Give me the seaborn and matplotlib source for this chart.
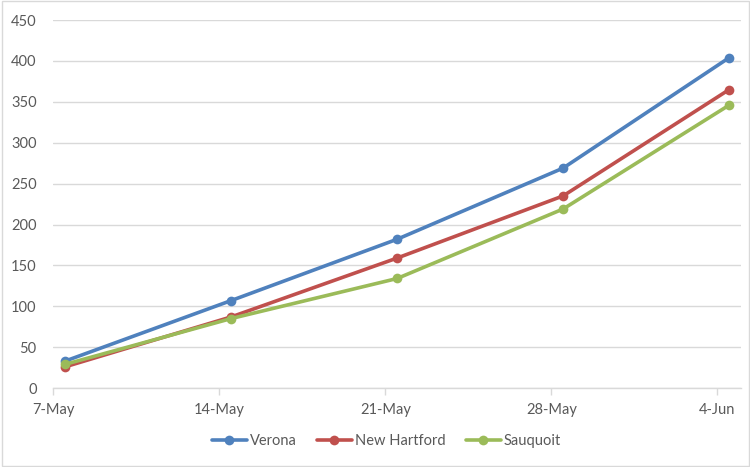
import matplotlib
matplotlib.use("Agg")
import matplotlib.pyplot as plt
import seaborn as sns
import pandas as pd

dates = ["7-May", "14-May", "21-May", "28-May", "4-Jun"]
day_offsets = [0, 7, 14, 21, 28]
verona = [33, 107, 182, 269, 404]
new_hartford = [26, 87, 159, 235, 365]
sauquoit = [29, 85, 134, 219, 346]
series_names = ["Verona", "New Hartford", "Sauquoit"]
colors = ["#4F81BD", "#C0504D", "#9BBB59"]

rows = []
for name, vals in zip(series_names, [verona, new_hartford, sauquoit]):
    for d, v in zip(day_offsets, vals):
        rows.append({"day": d + 0.5, "value": v, "site": name})
df = pd.DataFrame(rows)

sns.set_style("white")
plt.rcParams["font.family"] = ["Lato", "DejaVu Sans"]

fig = plt.figure(figsize=(7.5, 4.67), dpi=100)
ax = fig.add_axes([0.071, 0.169, 0.917, 0.788])

sns.lineplot(data=df, x="day", y="value", hue="site", hue_order=series_names,
             palette=colors, marker="o", markersize=7, markeredgewidth=0,
             linewidth=2.6, ax=ax)

ax.set_xlim(0, 29)
ax.set_ylim(0, 450)
ax.set_yticks(range(0, 451, 50))
ax.set_xticks(day_offsets)
ax.set_xticklabels(dates)
ax.yaxis.grid(True, color="#D9D9D9", linewidth=1)
ax.set_axisbelow(True)
for s in ["top", "right", "left"]:
    ax.spines[s].set_visible(False)
ax.spines["bottom"].set_color("#D9D9D9")
ax.spines["bottom"].set_linewidth(1)
ax.tick_params(axis="x", colors="#D9D9D9", length=5, width=1, pad=6,
               labelcolor="#595959", labelsize=10.5, bottom=True)
ax.tick_params(axis="y", length=0, labelcolor="#595959", labelsize=10.5, pad=12)
ax.set_xlabel("")
ax.set_ylabel("")

handles, labels = ax.get_legend_handles_labels()
ax.legend(handles, labels, loc="center", bbox_to_anchor=(0.515, 0.055),
          bbox_transform=fig.transFigure, ncol=3, frameon=False,
          fontsize=10.5, labelcolor="#595959", handlelength=2.4,
          columnspacing=1.4, handletextpad=0.2)

# outer chart border
fig.patches.append(plt.Rectangle((0.002, 0.002), 0.996, 0.996,
                                 transform=fig.transFigure, fill=False,
                                 edgecolor="#D9D9D9", linewidth=1))

fig.savefig("out.png", dpi=100)
